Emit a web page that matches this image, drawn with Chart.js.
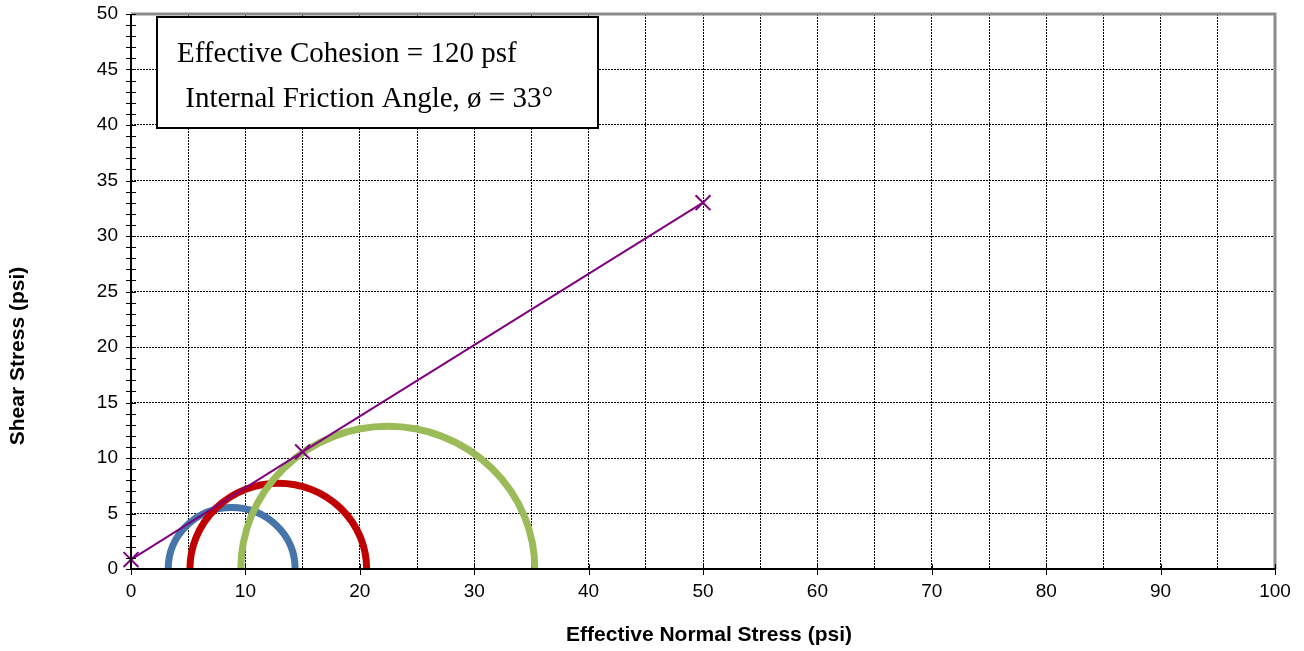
<!DOCTYPE html>
<html>
<head>
<meta charset="utf-8">
<script src="https://cdn.jsdelivr.net/npm/chart.js@4.4.1/dist/chart.umd.min.js"></script>
<style>
  html, body { margin: 0; padding: 0; background: #fff; }
  #wrap { width: 1304px; height: 651px; }
</style>
</head>
<body>
<div id="wrap"><canvas id="mohr" width="1304" height="651"></canvas></div>
<script>
// -----------------------------
// Data
// -----------------------------
const envelopeX = [0, 15, 50]          // effective normal stress (psi)
const envelopeY = [0.85, 10.55, 33.0]  // shear stress (psi)

// Mohr circles: minor / major effective principal stress (psi)
const sigma3 = [3.25, 5.15, 9.6]
const sigma1 = [14.35, 20.6, 35.3]
const circleColors = ["#4575A9", "#C00000", "#9BBB59"]

const xTicks = [0, 10, 20, 30, 40, 50, 60, 70, 80, 90, 100]
const yTicks = [0, 5, 10, 15, 20, 25, 30, 35, 40, 45, 50]

const xTitle = "Effective Normal Stress (psi)"
const yTitle = "Shear Stress (psi)"
const noteLines = ["Effective Cohesion = 120 psf", " Internal Friction Angle, \u00f8 = 33\u00b0"]

const sansFamily = "'Liberation Sans', Arial, sans-serif"

// -----------------------------
// Plugins
// -----------------------------
const mohrCircles = {
  id: "mohrCircles",
  beforeDatasetsDraw(chart) {
    const { ctx, scales: { x, y } } = chart
    ctx.save()
    sigma3.forEach((s3, i) => {
      const s1 = sigma1[i]
      const c = (s1 + s3) / 2
      const r = (s1 - s3) / 2
      const cx = x.getPixelForValue(c)
      const cy = y.getPixelForValue(0)
      const rx = x.getPixelForValue(s1) - cx
      const ry = cy - y.getPixelForValue(r)
      ctx.beginPath()
      ctx.ellipse(cx, cy, rx, ry, 0, Math.PI, 2 * Math.PI)
      ctx.strokeStyle = circleColors[i]
      ctx.lineWidth = 7
      ctx.stroke()
    })
    ctx.restore()
  }
}

const frameAndTicks = {
  id: "frameAndTicks",
  afterDraw(chart) {
    const { ctx, chartArea: a, scales: { x, y } } = chart
    ctx.save()
    // grey top/right frame
    ctx.strokeStyle = "#8c8c8c"
    ctx.lineWidth = 3
    ctx.beginPath()
    ctx.moveTo(a.left, a.top)
    ctx.lineTo(a.right, a.top)
    ctx.lineTo(a.right, a.bottom)
    ctx.stroke()

    // black axes
    ctx.strokeStyle = "#000"
    ctx.lineWidth = 2
    ctx.beginPath()
    ctx.moveTo(a.left, a.top)
    ctx.lineTo(a.left, a.bottom)
    ctx.lineTo(a.right, a.bottom)
    ctx.stroke()

    // tick marks crossing the axes
    ctx.lineWidth = 1
    ctx.beginPath()
    for (let v = 0; v <= 50; v++) {
      const py = Math.round(y.getPixelForValue(v)) + 0.5
      ctx.moveTo(a.left - 5, py)
      ctx.lineTo(a.left + 5, py)
    }
    xTicks.forEach(v => {
      const px = Math.round(x.getPixelForValue(v)) + 0.5
      ctx.moveTo(px, a.bottom - 5)
      ctx.lineTo(px, a.bottom + 6)
    })
    ctx.stroke()

    // axis titles
    ctx.fillStyle = "#000"
    ctx.font = "bold 21px " + sansFamily
    ctx.textAlign = "center"
    ctx.textBaseline = "middle"
    ctx.fillText(xTitle, 709, 635)
    ctx.save()
    ctx.translate(18, 356)
    ctx.rotate(-Math.PI / 2)
    ctx.fillText(yTitle, 0, 0)
    ctx.restore()

    // note box
    ctx.fillStyle = "#fff"
    ctx.fillRect(157, 17, 441, 111)
    ctx.strokeStyle = "#000"
    ctx.lineWidth = 2
    ctx.strokeRect(157, 17, 441, 111)
    ctx.fillStyle = "#000"
    ctx.font = "29px 'Liberation Serif', 'Times New Roman', serif"
    ctx.textAlign = "left"
    ctx.textBaseline = "alphabetic"
    ctx.fillText(noteLines[0], 177, 62)
    ctx.fillText(noteLines[1], 178, 107)
    ctx.restore()
  }
}

// -----------------------------
// Chart
// -----------------------------
const tickFont = { family: sansFamily, size: 19 }

new Chart(document.getElementById("mohr"), {
  type: "scatter",
  data: {
    datasets: [
      {
        data: envelopeX.map((v, i) => ({ x: v, y: envelopeY[i] })),
        showLine: true,
        borderColor: "#800080",
        backgroundColor: "#800080",
        borderWidth: 2,
        pointStyle: "crossRot",
        pointRadius: 10.5,
        pointBorderWidth: 2,
        clip: false
      }
    ]
  },
  options: {
    responsive: false,
    animation: false,
    layout: { padding: { top: 14, right: 29, left: 0, bottom: 0 } },
    plugins: {
      legend: { display: false },
      tooltip: { enabled: false }
    },
    scales: {
      x: {
        type: "linear",
        min: 0,
        max: 100,
        afterFit(s) {
          s.height = 82
          s.paddingLeft = 0
          s.paddingRight = 0
        },
        afterBuildTicks(s) {
          s.ticks = []
          for (let v = 0; v <= 100; v += 5) s.ticks.push({ value: v })
        },
        grid: {
          color: "#000",
          lineWidth: 1,
          drawTicks: false
        },
        border: { display: false, dash: [2, 1] },
        ticks: {
          color: "#000",
          font: tickFont,
          padding: 11,
          maxRotation: 0,
          autoSkip: false,
          callback: v => xTicks.includes(v) ? String(v) : ""
        }
      },
      y: {
        type: "linear",
        min: 0,
        max: 50,
        afterFit(s) {
          s.width = 131
          s.paddingTop = 0
          s.paddingBottom = 0
        },
        afterBuildTicks(s) {
          s.ticks = yTicks.map(v => ({ value: v }))
        },
        grid: {
          color: "#000",
          lineWidth: 1,
          drawTicks: false
        },
        border: { display: false, dash: [2, 1] },
        ticks: {
          color: "#000",
          font: tickFont,
          padding: 13,
          autoSkip: false
        }
      }
    }
  },
  plugins: [mohrCircles, frameAndTicks]
})
</script>
</body>
</html>
